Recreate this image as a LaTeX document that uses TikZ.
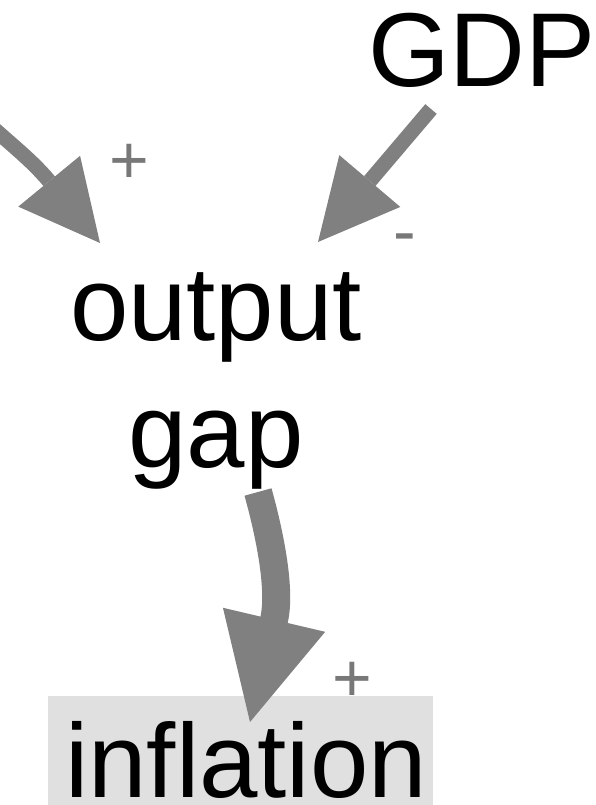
\documentclass[tikz,border=0pt]{standalone}
\usepackage{fontspec}
\setmainfont{Liberation Sans}
\usetikzlibrary{arrows.meta}
\definecolor{linkgray}{HTML}{808080}
\definecolor{signgray}{HTML}{787878}
\definecolor{boxgray}{HTML}{E0E0E0}
\begin{document}
\begin{tikzpicture}[x=1pt,y=-1pt,
  var/.style={inner sep=0pt, font=\fontsize{105}{127}\selectfont, text=black},
  sign/.style={inner sep=0pt, font=\fontsize{68}{68}\selectfont, text=signgray},
  link/.style={draw=linkgray, line cap=butt, line join=round},
  thin link/.style={link, line width=15pt,
    -{Triangle[length=80pt,width=80pt,line width=0pt]}},
  thick link/.style={link, line width=28pt,
    -{Triangle[length=105pt,width=105pt,line width=0pt]}}]
\clip (0,0) rectangle (596,805);

% variables (the two-line node sits on the baseline of its last line)
\node[var, anchor=base] (GDP) at (482,87) {GDP};
\node[var, align=center, anchor=base] (gap) at (216,467) {output\\gap};
\node[var, fill=boxgray, anchor=base west, text height=101pt, text depth=20pt]
  (infl) at (48,797) {\hspace*{17pt}inflation\hspace*{6pt}};

% connector end points
\coordinate (feed)   at (-30,107);
\coordinate (hb1)    at (49,181);
\coordinate (gap-l)  at (100,243);
\coordinate (gdp-o)  at (431,109);
\coordinate (gap-r)  at (318,242);
\coordinate (gap-b)  at (258,492);
\coordinate (hb3)    at (274,620);
\coordinate (infl-t) at (250,722);

% causal links
\draw[thin link] (feed) .. controls (5,140) and (30,158) .. (hb1) -- (gap-l);
\draw[thin link] (gdp-o) -- (gap-r);
\draw[thick link] (gap-b) .. controls (270,535) and (281,590) .. (hb3) -- (infl-t);

% polarity signs
\node[sign] (sgn-l) at (129,164) {+};
\node[sign] (sgn-r) at (405,244) {-};
\node[sign] (sgn-b) at (352,682) {+};
\end{tikzpicture}
\end{document}
